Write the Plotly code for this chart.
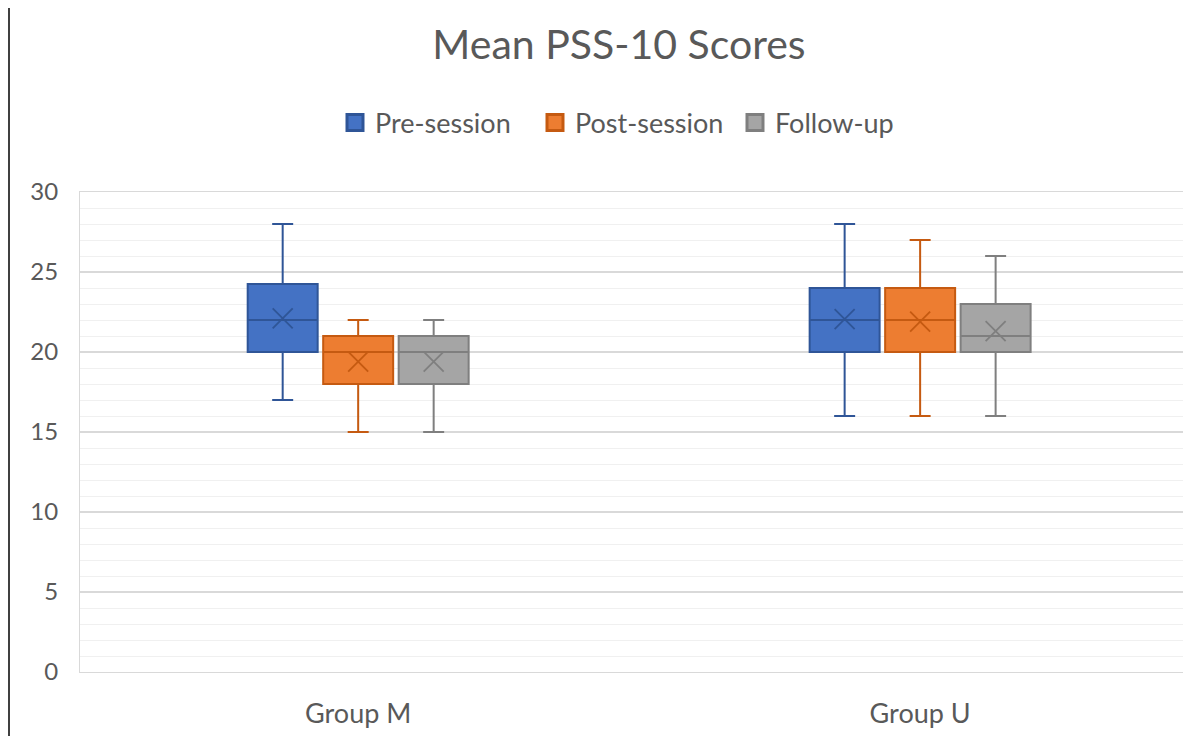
import plotly.graph_objects as go

groups = ["Group M", "Group U"]
series = ["Pre-session", "Post-session", "Follow-up"]
lower = {"Pre-session": [17, 16], "Post-session": [15, 16], "Follow-up": [15, 16]}
q1 = {"Pre-session": [20, 20], "Post-session": [18, 20], "Follow-up": [18, 20]}
median = {"Pre-session": [22, 22], "Post-session": [20, 22], "Follow-up": [20, 21]}
q3 = {"Pre-session": [24.25, 24], "Post-session": [21, 24], "Follow-up": [21, 23]}
upper = {"Pre-session": [28, 28], "Post-session": [22, 27], "Follow-up": [22, 26]}
means = {"Pre-session": [22.1, 22.05], "Post-session": [19.4, 21.9], "Follow-up": [19.4, 21.3]}

fills = {"Pre-session": "#4472C4", "Post-session": "#ED7D31", "Follow-up": "#A5A5A5"}
edges = {"Pre-session": "#2F5597", "Post-session": "#C55A11", "Follow-up": "#7F7F7F"}

font_family = "Lato, Open Sans, sans-serif"
text_color = "#595959"

fig = go.Figure()
for s in series:
    fig.add_trace(go.Box(
        name=s, x=groups, q1=q1[s], median=median[s], q3=q3[s],
        lowerfence=lower[s], upperfence=upper[s],
        fillcolor=fills[s], line=dict(color=edges[s], width=2),
        whiskerwidth=0.3, offsetgroup=s, alignmentgroup="a",
        boxpoints=False, hoverinfo="skip", showlegend=False,
    ))
for s in series:
    fig.add_trace(go.Scatter(
        x=groups, y=means[s], mode="markers", showlegend=False,
        offsetgroup=s, alignmentgroup="a",
        marker=dict(symbol="x-thin-open", size=20, color=edges[s],
                    line=dict(color=edges[s], width=1.8)),
        hoverinfo="skip",
    ))
# legend entries (square swatches)
for s in series:
    fig.add_trace(go.Scatter(
        x=[None], y=[None], mode="markers", name=s, showlegend=True,
        marker=dict(symbol="square", size=16, color=fills[s],
                    line=dict(color=edges[s], width=3)),
    ))

W, H = 1183, 728
ml, mr, mt, mb = 72, 0, 184, 64
pw = W - ml - mr
ph = H - mt - mb

fig.update_layout(
    width=W, height=H,
    margin=dict(l=ml, r=mr, t=mt, b=mb),
    paper_bgcolor="white", plot_bgcolor="white",
    font=dict(family=font_family, color=text_color),
    title=dict(text="Mean PSS-10 Scores", x=611 / W, xanchor="center",
               y=1 - 37 / H, yanchor="middle",
               font=dict(size=41, color=text_color, family=font_family)),
    boxmode="group", boxgap=0.597, boxgroupgap=0.073,
    scattermode="group", scattergap=0.597,
    legend=dict(orientation="h", x=(327 - ml) / pw, xanchor="left",
                y=1 + (mt - 115) / ph, yanchor="middle",
                font=dict(size=27, color=text_color), traceorder="normal",
                itemsizing="trace", itemwidth=30,
                entrywidth=155, entrywidthmode="pixels"),
    showlegend=True,
)
fig.update_yaxes(
    range=[0, 30], dtick=5, tick0=0, showgrid=True, gridcolor="#D9D9D9", gridwidth=1.5,
    minor=dict(dtick=1, showgrid=True, gridcolor="#F0F0F0", gridwidth=1),
    tickfont=dict(size=24, color=text_color), ticks="", ticklabelstandoff=16,
    showline=True, linecolor="#D9D9D9", linewidth=1, mirror=True, zeroline=False,
)
fig.update_xaxes(
    categoryorder="array", categoryarray=groups, range=[-0.495, 1.482],
    tickfont=dict(size=27, color=text_color), ticks="", ticklabelstandoff=18,
    showline=True, linecolor="#D9D9D9", linewidth=1, mirror=True,
)
# left border line of the original image
fig.add_shape(type="line", xref="paper", yref="paper",
              x0=(1 - ml) / pw, x1=(1 - ml) / pw, y0=-mb / ph, y1=1 + mt / ph,
              line=dict(color="#404040", width=2))

fig.write_html("out.html")
